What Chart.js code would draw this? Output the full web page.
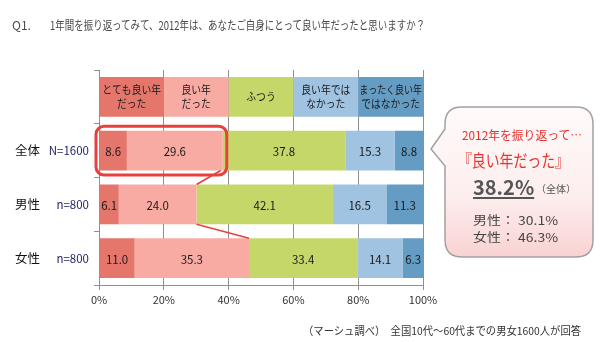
<!DOCTYPE html>
<html><head><meta charset="utf-8">
<script src="https://cdn.jsdelivr.net/npm/chart.js@4"></script>
<style>
html,body{margin:0;padding:0;background:#fff;}
#wrap{position:relative;width:600px;height:342px;overflow:hidden;font-family:"Noto Sans CJK JP",sans-serif;}
#c{position:absolute;left:0;top:0;}
.t{position:absolute;white-space:nowrap;line-height:1;transform-origin:left center;font-family:"Noto Sans CJK JP",sans-serif;}
svg{position:absolute;left:0;top:0;}
</style></head><body>
<div id="wrap">
<canvas id="c" width="600" height="342"></canvas>
<svg width="600" height="342">
  <defs><linearGradient id="g" x1="0" y1="0" x2="0" y2="1">
    <stop offset="0" stop-color="#fffafa"/><stop offset="0.6" stop-color="#fdeeee"/><stop offset="1" stop-color="#f9d2d2"/></linearGradient></defs>
  <path d="M462 107 H576 Q593 107 593 124 V240 Q593 257 576 257 H462 Q445 257 445 240 V166 L431 149 L445 129 V124 Q445 107 462 107 Z" fill="url(#g)" stroke="#a5a0a0" stroke-width="1.5"/>
</svg>
<div class="t" id="title" style="left:12px;top:19px;font-size:12px;color:#4a4a4a">Q1.</div>
<div class="t" id="title2" style="left:50px;top:19px;font-size:12px;color:#4a4a4a">1年間を振り返ってみて、2012年は、あなたご自身にとって良い年だったと思いますか？</div>
<div class="t" id="co1" style="left:462px;top:129px;font-size:12px;color:#e8322c">2012年を振り返って…</div>
<div class="t" id="co2" style="left:458px;top:151px;font-size:17px;color:#e8322c">『良い年だった』</div>
<div class="t" id="co3" style="left:473px;top:177px;font-size:20px;font-weight:bold;color:#555;text-decoration:underline;text-underline-offset:2px"></div>
<div class="t" id="co3b" style="left:536px;top:184px;font-size:10px;color:#555">（全体）</div>
<div class="t" id="co4" style="left:473px;top:214px;font-size:12px;color:#444"></div>
<div class="t" id="co5" style="left:473px;top:231px;font-size:12px;color:#444"></div>
<div class="t" id="foot" style="left:303px;top:325px;font-size:11px;color:#333">（マーシュ調べ）　全国10代～60代までの男女1600人が回答</div>
</div>
<script>
const groups = ['全体', '男性', '女性'];
const sampleSizes = ['N=1600', 'n=800', 'n=800'];
const answerLabels = [['とても良い年','だった'], ['良い年','だった'], ['ふつう'], ['良い年では','なかった'], ['まったく良い年','ではなかった']];
const veryGood = [8.6, 6.1, 11.0];
const good = [29.6, 24.0, 35.3];
const neutral = [37.8, 42.1, 33.4];
const notGood = [15.3, 16.5, 14.1];
const notAtAll = [8.8, 11.3, 6.3];
const xTicks = [0, 20, 40, 60, 80, 100];
const colors = ['#e5766c', '#f8aba3', '#c6d76a', '#9fc3e1', '#649cc4'];

const series = [veryGood, good, neutral, notGood, notAtAll];
const headerShare = 100 / series.length;
const goodTotal = groups.map((g, i) => +(veryGood[i] + good[i]).toFixed(1));

const labelsPlugin = {
  id: 'labels',
  afterDatasetsDraw(chart) {
    const ctx = chart.ctx, x = chart.scales.x, y = chart.scales.y;
    ctx.save();
    ctx.textBaseline = 'middle';
    ctx.textAlign = 'center';
    chart.data.datasets.forEach((ds, d) => {
      const meta = chart.getDatasetMeta(d);
      meta.data.forEach((el, i) => {
        const cx = (el.x + el.base) / 2;
        const w = Math.abs(el.x - el.base);
        ctx.fillStyle = '#1a1a1a';
        if (i === 0) {
          const lines = answerLabels[d];
          ctx.font = '11px "Noto Sans CJK JP"';
          const lh = 14;
          lines.forEach((ln, k) => {
            const mw = Math.min(ctx.measureText(ln).width, ln.length * 9.8, w - 2);
            ctx.fillText(ln, cx, el.y + (k - (lines.length - 1) / 2) * lh, mw);
          });
        } else {
          ctx.font = '11.5px "Noto Sans CJK JP"';
          ctx.fillText(ds.data[i].toFixed(1), cx, el.y + 1);
        }
      });
    });
    // y labels
    groups.forEach((g, i) => {
      const py = y.getPixelForValue(i + 1);
      ctx.font = '12.5px "Noto Sans CJK JP"';
      ctx.fillStyle = '#111';
      ctx.textAlign = 'left';
      ctx.fillText(g, 15, py);
      ctx.font = '11.5px "Noto Sans CJK JP"';
      ctx.fillStyle = '#24246a';
      ctx.textAlign = 'right';
      ctx.fillText(sampleSizes[i], 89, py);
    });
    // highlight box and connectors
    const bars = chart.getDatasetMeta(1).data;
    const h = bars[1].height;
    const top1 = bars[1].y - h / 2, bot1 = bars[1].y + h / 2;
    const x0 = x.getPixelForValue(0);
    const xe = x.getPixelForValue(goodTotal[0]);
    ctx.strokeStyle = '#e8403c';
    ctx.lineWidth = 3;
    ctx.beginPath();
    ctx.roundRect(x0 - 3, top1 - 4.5, xe - x0 + 7, h + 9, 8);
    ctx.stroke();
    ctx.lineWidth = 1.6;
    ctx.beginPath();
    ctx.moveTo(xe - 2, bot1);
    ctx.lineTo(x.getPixelForValue(goodTotal[1]), bars[2].y - h / 2);
    ctx.moveTo(x.getPixelForValue(goodTotal[1]), bars[2].y + h / 2);
    ctx.lineTo(x.getPixelForValue(goodTotal[2]), bars[3].y - h / 2);
    ctx.stroke();
    ctx.restore();
  }
};

new Chart(document.getElementById('c'), {
  type: 'bar',
  data: {
    labels: ['', ...groups],
    datasets: series.map((s, d) => ({
      label: answerLabels[d].join(''),
      data: [headerShare, ...s],
      backgroundColor: colors[d],
      borderWidth: 0,
      barPercentage: 0.74,
      categoryPercentage: 1
    }))
  },
  options: {
    indexAxis: 'y',
    responsive: false,
    animation: false,
    layout: { padding: { top: 70, right: 177, left: 0, bottom: 0 } },
    plugins: { legend: { display: false }, tooltip: { enabled: false } },
    scales: {
      x: {
        stacked: true, min: 0, max: 100,
        afterFit: s => { s.height = 57; },
        afterBuildTicks: s => { s.ticks = xTicks.map(v => ({ value: v })); },
        ticks: { callback: v => v + '%', font: { size: 11, family: '"Noto Sans CJK JP"' }, color: '#333', padding: 3, maxRotation: 0 },
        grid: { color: '#8f8f8f', tickLength: 5, tickColor: '#8f8f8f' },
        border: { color: '#8f8f8f' }
      },
      y: {
        stacked: true,
        afterFit: s => { s.width = 99; },
        ticks: { display: false },
        grid: { drawOnChartArea: false, offset: true, tickLength: 5, color: '#8f8f8f' },
        border: { color: '#8f8f8f' }
      }
    }
  },
  plugins: [labelsPlugin]
});

document.getElementById('co3').textContent = goodTotal[0].toFixed(1) + '%';
document.getElementById('co4').textContent = '男性： ' + goodTotal[1].toFixed(1) + '%';
document.getElementById('co5').textContent = '女性： ' + goodTotal[2].toFixed(1) + '%';

function fit(id, w) {
  const el = document.getElementById(id);
  el.style.transform = 'scaleX(' + (w / el.offsetWidth) + ')';
}
fit('title2', 375);
fit('foot', 278);
fit('co1', 120);
fit('co2', 111);
fit('co4', 85);
fit('co5', 85);
</script>
</body></html>
